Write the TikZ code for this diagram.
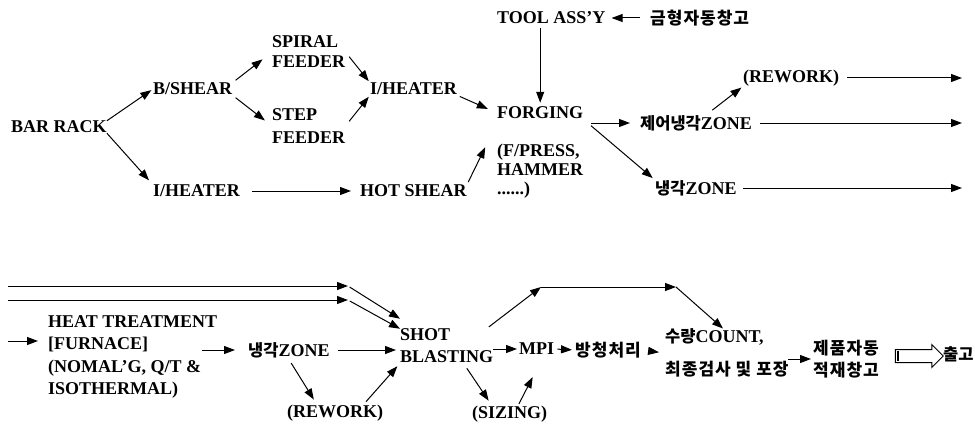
\documentclass[tikz,border=0pt]{standalone}
\usepackage{fontspec}
\setmainfont{Liberation Serif}
\newfontfamily\kr{Noto Sans CJK KR}
\newfontfamily\krs{Noto Sans CJK KR}[LetterSpace=6]
\usetikzlibrary{arrows.meta,shapes.arrows}
\newcommand{\hg}[1]{{\kr\fontsize{16.5}{20}\selectfont #1}}
\newcommand{\hgs}[1]{{\krs\fontsize{17}{20}\selectfont #1}}

\begin{document}
\begin{tikzpicture}[x=1pt,y=-1pt,
  lbl/.style={inner sep=0pt,anchor=west,align=left,font=\bfseries\fontsize{18}{21}\selectfont},
  arr/.style={-{Triangle[length=11pt,width=8pt]},line width=1pt}]
\useasboundingbox (0,0) rectangle (975,428);
% forging line
\node[lbl] (bar) at (11,127) {BAR RACK};
\node[lbl] (bshear) at (153,89) {B/SHEAR};
\node[lbl,font=\bfseries\fontsize{18}{20}\selectfont] (spiral) at (272,52) {SPIRAL\\FEEDER};
\node[lbl,font=\bfseries\fontsize{18}{23}\selectfont] (step) at (272,126) {STEP\\FEEDER};
\node[lbl] (iheat) at (370,89) {I/HEATER};
\node[lbl] (iheat2) at (153,191) {I/HEATER};
\node[lbl] (hotshear) at (360,191) {HOT SHEAR};
\node[lbl] (tool) at (497,18) {TOOL ASS'Y};
\node[lbl] (mold) at (650,18) {\hgs{금형자동창고}};
\node[lbl] (forge) at (497,113) {FORGING};
\node[lbl,font=\bfseries\fontsize{18}{19}\selectfont] (press) at (497,171) {(F/PRESS,\\HAMMER\\......)};
\node[lbl] (czone) at (640,123) {\hg{제어냉각}ZONE};
\node[lbl] (rework1) at (743,78) {(REWORK)};
\node[lbl] (czone2) at (655,188) {\hg{냉각}ZONE};
\coordinate (out1) at (962,78);
\coordinate (out2) at (962,123);
\coordinate (out3) at (962,188);
\draw[arr,shorten >=2pt] (bar.north east) -- (bshear.west);
\draw[arr,shorten >=6pt] (bar.south east) -- (iheat2.north west);
\draw[arr,shorten <=4pt,shorten >=12pt] (bshear.north east) -- (spiral.west);
\draw[arr,shorten <=4pt,shorten >=9pt] (bshear.south east) -- (step.west);
\draw[arr,shorten <=6pt,shorten >=2pt] (spiral.east) -- (iheat.north west);
\draw[arr,shorten <=6pt,shorten >=2pt] (step.east) -- (iheat.south west);
\draw[arr,shorten <=3pt,shorten >=10pt] (iheat.south east) -- (forge.west);
\draw[arr,shorten <=12pt,shorten >=9pt] (iheat2.east) -- (hotshear.west);
\draw[arr,shorten <=3pt,shorten >=4pt] (hotshear.north east) -- ([xshift=-10pt]press.north west);
\draw[arr,shorten <=4pt,shorten >=4pt] (tool.south -| forge.north) -- (forge.north);
\draw[arr,shorten <=10pt,shorten >=6pt] (mold.west) -- (tool.east);
\draw[arr,shorten <=8pt,shorten >=10pt] (forge.east |- czone.west) -- (czone.west);
\draw[arr,shorten <=10pt,shorten >=3pt] (forge.south east) -- (czone2.north west);
\draw[arr,shorten <=8pt,shorten >=2pt] ([xshift=66pt]czone.north west) -- (rework1.south west);
\foreach \x/\y/\s in {rework1/out1/8,czone/out2/8,czone2/out3/6}
  \draw[arr,shorten <=\s pt] (\x.east) -- (\y);
% finishing line
\coordinate (in1) at (8,286);
\coordinate (in2) at (8,300);
\coordinate (in3) at (8,341);
\coordinate (m1) at (348,286);
\coordinate (m2) at (348,300);
\node[lbl,font=\bfseries\fontsize{18}{22.5}\selectfont] (heat) at (48,357) {HEAT TREATMENT\\{[}FURNACE]\\(NOMAL'G, Q/T \&\\ISOTHERMAL)};
\node[lbl] (zone2) at (248,350) {\hg{냉각}ZONE};
\node[lbl] (rework2) at (287,413) {(REWORK)};
\node[lbl,font=\bfseries\fontsize{18}{22}\selectfont] (shot) at (400,346) {SHOT\\BLASTING};
\node[lbl] (sizing) at (472,414) {(SIZING)};
\node[lbl] (mpi) at (519,349) {MPI};
\node[lbl] (bang) at (575,350) {\hgs{방청처리}};
\coordinate (b1) at (541,287);
\coordinate (b2) at (676,287);
\node[lbl,font=\bfseries\fontsize{18}{33}\selectfont] (count) at (665,353) {\hg{수량}COUNT,\\\hgs{최종검사 및 포장}};
\node[lbl,font=\bfseries\fontsize{18}{22}\selectfont] (store) at (813,359) {\hgs{제품자동}\\\hgs{적재창고}};
\node[single arrow,draw,line width=1pt,minimum height=48pt,inner sep=6pt,single arrow head extend=5pt] (pipe) at (916,356) {};
\node[lbl] (ship) at (943,354) {\hg{출고}};
\draw[arr] (in1) -- (m1);
\draw[arr] (in2) -- (m2);
\draw[arr,shorten <=2pt] (m1) -- ([yshift=10pt]shot.north west);
\draw[arr,shorten <=2pt] (m2) -- (shot.north west);
\draw[arr,shorten >=10pt] (in3) -- (in3 -| heat.west);
\draw[arr,shorten >=13pt] ([xshift=-15pt]heat.east |- zone2.west) -- (zone2.west);
\draw[arr,shorten <=8pt,shorten >=4pt] (zone2.east) -- (zone2.east -| shot.west);
\draw[arr,shorten <=6pt,shorten >=6pt] ([xshift=40pt]zone2.south west) -- ([xshift=30pt]rework2.north west);
\draw[arr,shorten <=4pt,shorten >=4pt] ([xshift=-20pt]rework2.north east) -- (shot.south west);
\draw[arr,shorten <=6pt,shorten >=6pt] ([xshift=-30pt]shot.south east) -- ([xshift=20pt]sizing.north west);
\draw[arr,shorten <=2pt] ([xshift=46pt]sizing.north west) -- ([shift={(-4pt,-22pt)}]mpi.south);
\draw[arr,shorten <=3pt] ([xshift=-7pt]shot.north east) -- (b1);
\draw[arr] (b1) -- (b2);
\draw[arr] (b2) -- ([xshift=58pt]count.north west);
\draw[arr,shorten >=2pt] (shot.east |- mpi.west) -- (mpi.west);
\draw[arr,shorten <=3pt,shorten >=3pt] (mpi.east) -- (bang.west);
\draw[arr,shorten <=8pt,shorten >=6pt] (bang.east) -- (count.west);
\draw[arr,shorten >=2pt] ([xshift=-25pt]store.west) -- (store.west);
\draw[line width=2.5pt] ([xshift=3pt]pipe.west) ++(0,5pt) -- ++(0,-10pt);
\end{tikzpicture}
\end{document}
